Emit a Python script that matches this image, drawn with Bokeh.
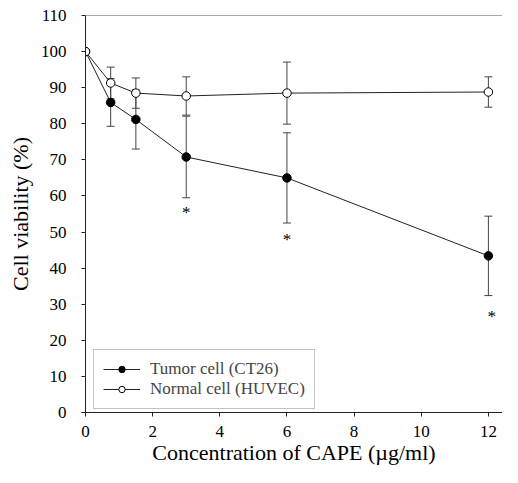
from bokeh.plotting import figure
from bokeh.models import (ColumnDataSource, Whisker, TeeHead, Range1d, Span,
                          Legend, LegendItem, FixedTicker)
from bokeh.core.properties import value
from bokeh.embed import file_html
from bokeh.resources import INLINE

# ---- data ----
conc = [0, 0.75, 1.5, 3, 6, 12]
tumor = [100, 85.9, 81.2, 70.8, 65.0, 43.4]
normal = [100, 91.3, 88.5, 87.7, 88.5, 88.8]
err_conc = [0.75, 1.5, 3, 6, 12]
tumor_sd = [6.6, 8.2, 11.3, 12.5, 11.0]
normal_sd = [4.4, 4.2, 5.3, 8.6, 4.2]
sig_x = [3, 6, 12.1]
sig_y = [55.3, 48.0, 26.7]
x_ticks = [0, 2, 4, 6, 8, 10, 12]
y_ticks = [0, 10, 20, 30, 40, 50, 60, 70, 80, 90, 100, 110]

FONT = "Liberation Serif"
INK = "#222222"

p = figure(width=502, height=467, output_backend="svg", toolbar_location=None,
           x_range=Range1d(0, 12.42), y_range=Range1d(0, 110),
           min_border_left=85, min_border_right=0, min_border_top=15,
           min_border_bottom=55)
p.outline_line_color = None
p.grid.grid_line_color = None
p.background_fill_color = "white"

p.add_layout(Span(location=110, dimension="width", line_color="#555555", line_width=1))

for ax in (p.xaxis[0], p.yaxis[0]):
    ax.axis_line_color = INK
    ax.major_tick_line_color = INK
    ax.major_tick_out = 4
    ax.major_tick_in = 0
    ax.minor_tick_line_color = None
    ax.major_label_text_font = FONT
    ax.major_label_text_font_size = "17px"
    ax.major_label_text_color = "black"
    ax.axis_label_text_font = FONT
    ax.axis_label_text_font_size = "22px"
    ax.axis_label_text_font_style = "normal"
    ax.axis_label_text_color = "black"

p.xaxis.ticker = FixedTicker(ticks=x_ticks)
p.yaxis.ticker = FixedTicker(ticks=y_ticks)
p.xaxis.major_label_standoff = 9
p.yaxis.major_label_standoff = 15
p.xaxis.axis_label = "Concentration of CAPE (\u00b5g/ml)"
p.yaxis.axis_label = "Cell viability (%)"
p.xaxis.axis_label_standoff = 0
p.yaxis.axis_label_standoff = 5

# error bars
t_src = ColumnDataSource(dict(x=err_conc,
                              upper=[m + s for m, s in zip(tumor[1:], tumor_sd)],
                              lower=[m - s for m, s in zip(tumor[1:], tumor_sd)]))
n_src = ColumnDataSource(dict(x=err_conc,
                              upper=[m + s for m, s in zip(normal[1:], normal_sd)],
                              lower=[m - s for m, s in zip(normal[1:], normal_sd)]))
for src in (t_src, n_src):
    w = Whisker(source=src, base="x", upper="upper", lower="lower",
                line_color="#444444", line_width=1,
                upper_head=TeeHead(size=8, line_color="#444444", line_width=1),
                lower_head=TeeHead(size=8, line_color="#444444", line_width=1))
    p.add_layout(w)

tl = p.line(conc, tumor, line_color=INK, line_width=1)
ts = p.scatter(conc, tumor, size=8.5, fill_color="black", line_color="black")
nl = p.line(conc, normal, line_color=INK, line_width=1)
ns = p.scatter(conc, normal, size=8.5, fill_color="white", line_color="black", line_width=1)

p.text(sig_x, sig_y, text=["*"] * len(sig_x), text_font=value(FONT),
       text_font_size="17px", text_align="center", text_baseline="middle",
       text_color="black")

legend = Legend(items=[LegendItem(label="Tumor cell (CT26)", renderers=[tl, ts]),
                       LegendItem(label="Normal cell (HUVEC)", renderers=[nl, ns])],
                location=(8, 3), glyph_width=37, glyph_height=16, label_standoff=10,
                padding=9, spacing=0, margin=0,
                label_text_font=FONT, label_text_font_size="17px",
                border_line_color="#888888", border_line_width=1,
                background_fill_color="white", background_fill_alpha=1)
p.add_layout(legend, "center")

open("out.html", "w").write(file_html(p, INLINE))
